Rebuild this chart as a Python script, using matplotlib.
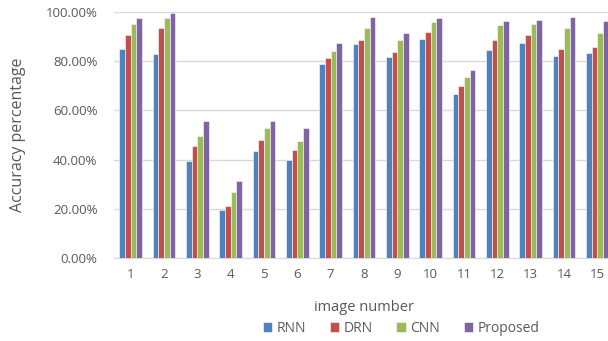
import numpy as np
import matplotlib.pyplot as plt
from matplotlib.ticker import PercentFormatter

images = [str(i) for i in range(1, 16)]
rnn = [85.1, 82.9, 39.6, 19.5, 43.4, 40.0, 79.0, 86.8, 81.7, 89.0, 66.8, 84.5, 87.4, 82.2, 83.4]
drn = [90.8, 93.5, 45.7, 21.2, 47.9, 44.0, 81.3, 88.5, 83.6, 91.9, 70.1, 88.5, 90.8, 85.1, 85.6]
cnn = [95.1, 97.4, 49.7, 26.7, 52.9, 47.4, 84.0, 93.5, 88.5, 95.8, 73.4, 94.6, 95.1, 93.5, 91.3]
proposed = [97.4, 99.7, 55.6, 31.2, 55.6, 52.9, 87.4, 98.0, 91.3, 97.4, 76.3, 96.2, 96.9, 98.0, 96.2]

series = [("RNN", rnn, "#4F81BD"), ("DRN", drn, "#C0504D"),
          ("CNN", cnn, "#9BBB59"), ("Proposed", proposed, "#8064A2")]

plt.rcParams['font.family'] = ['Open Sans', 'DejaVu Sans']
text_color = "#595959"

fig = plt.figure(figsize=(6.08, 3.41), dpi=100)
ax = fig.add_axes([114 / 608, 1 - 258 / 341, 500 / 608, 246 / 341])

x = np.arange(len(images))
w = 0.17
for i, (name, vals, col) in enumerate(series):
    ax.bar(x + (i - 1.5) * w, vals, width=w, color=col, edgecolor="white",
           linewidth=0.4, label=name, zorder=3)

ax.set_ylim(0, 100)
ax.set_xlim(-0.5, len(images) - 0.5)
ax.set_yticks(np.arange(0, 101, 20))
ax.yaxis.set_major_formatter(PercentFormatter(decimals=2))
ax.set_xticks(x)
ax.set_xticklabels(images)
ax.grid(axis="y", color="#D9D9D9", linewidth=1, zorder=0)
for s in ["top", "right", "left"]:
    ax.spines[s].set_visible(False)
ax.spines["bottom"].set_color("#D9D9D9")
ax.tick_params(length=0, colors=text_color, labelsize=9.5)
ax.tick_params(axis="y", pad=12)
ax.tick_params(axis="x", pad=7)

ax.set_xlabel("image number", color=text_color, fontsize=10.5, labelpad=14)
fig.text(18 / 608, 1 - 135 / 341, "Accuracy percentage", rotation=90,
         color=text_color, fontsize=11.5, ha="center", va="center")

leg = fig.legend(loc="center", bbox_to_anchor=(401 / 608, 1 - 328 / 341), ncol=4,
                 frameon=False, fontsize=10, handlelength=0.7, handleheight=0.7,
                 handletextpad=0.3, columnspacing=1.7, labelcolor=text_color)

fig.savefig("out.png", dpi=100)
